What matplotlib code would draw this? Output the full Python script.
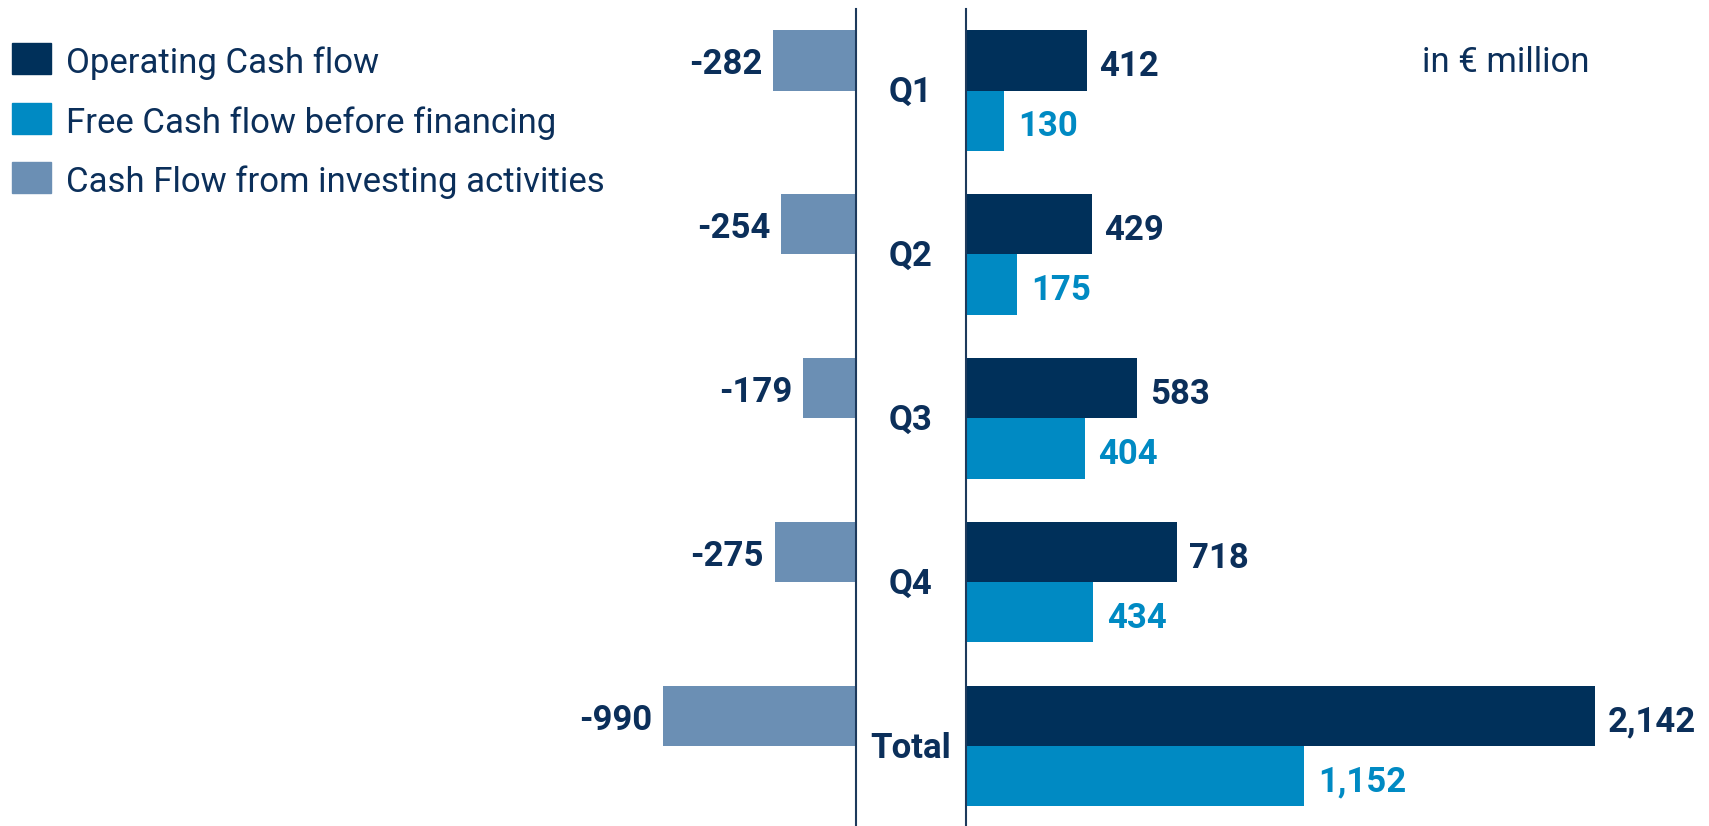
import numpy as np
import matplotlib
matplotlib.use("Agg")
import matplotlib.pyplot as plt

plt.rcParams['font.family'] = ['Roboto', 'DejaVu Sans']

# Cash flow figures, in € million
periods = ['Q1', 'Q2', 'Q3', 'Q4', 'Total']
operating = [412, 429, 583, 718, 2142]
free_cf = [130, 175, 404, 434, 1152]
investing = [-282, -254, -179, -275, -990]
labels_op = ['412', '429', '583', '718', '2,142']
labels_free = ['130', '175', '404', '434', '1,152']
labels_inv = ['-282', '-254', '-179', '-275', '-990']

c_op = '#00305a'
c_free = '#008ac3'
c_inv = '#6b8fb4'
c_text = '#0b2f5a'
c_line = '#1d3a5c'

W, H = 1709, 826
fig = plt.figure(figsize=(W / 100, H / 100), dpi=100)

top = (H - 9) / H
ylim = (4.485, -0.497)
bh = 0.366
y = np.arange(len(periods))
fs = 25

# left panel: investing (negative), cut off at its left edge
axl = fig.add_axes([663 / W, 0, (856 - 663) / W, top])
axl.barh(y - bh / 2, investing, height=bh, color=c_inv)
axl.set_xlim(-657, 0)
axl.set_ylim(*ylim)
for yi, v, t in zip(y, investing, labels_inv):
    xv = max(v, axl.get_xlim()[0])
    axl.annotate(t, (xv, yi - bh / 2), xytext=(-8, -3), textcoords='offset points',
                 ha='right', va='center', fontsize=fs, fontweight='bold',
                 color=c_text, annotation_clip=False)

# right panel: operating and free cash flow
axr = fig.add_axes([966 / W, 0, (W - 966) / W, top])
axr.barh(y - bh / 2, operating, height=bh, color=c_op)
axr.barh(y + bh / 2, free_cf, height=bh, color=c_free)
axr.set_xlim(0, 2530)
axr.set_ylim(*ylim)
for yi, v, t in zip(y, operating, labels_op):
    axr.annotate(t, (v, yi - bh / 2), xytext=(9, -4), textcoords='offset points',
                 ha='left', va='center', fontsize=fs, fontweight='bold', color=c_text)
for yi, v, t in zip(y, free_cf, labels_free):
    axr.annotate(t, (v, yi + bh / 2), xytext=(10, -4), textcoords='offset points',
                 ha='left', va='center', fontsize=fs, fontweight='bold', color=c_free)

for ax in (axl, axr):
    for s in ax.spines.values():
        s.set_visible(False)
    ax.set_xticks([])
    ax.set_yticks([])
    ax.patch.set_visible(False)
axl.spines['right'].set_visible(True)
axr.spines['left'].set_visible(True)
for s in (axl.spines['right'], axr.spines['left']):
    s.set_color(c_line)
    s.set_linewidth(1.5)

# period names between the two lines
xc = ((856 + 966) / 2) / W
for yi, p in zip(y, periods):
    yf = axr.transData.transform((0, yi))[1]
    fig.text(xc, fig.transFigure.inverted().transform((0, yf))[1] - 2 / H, p,
             ha='center', va='center', fontsize=fs, fontweight='bold', color=c_text)

# legend
legend_items = [('Operating Cash flow', c_op),
                ('Free Cash flow before financing', c_free),
                ('Cash Flow from investing activities', c_inv)]
for i, (name, col) in enumerate(legend_items):
    yc = 58.5 + i * 59.5
    fig.patches.append(plt.Rectangle((12 / W, 1 - (yc + 15.5) / H), 39 / W, 31 / H,
                                     transform=fig.transFigure, color=col))
    fig.text(66 / W, 1 - (yc + 5) / H, name, ha='left', va='center',
             fontsize=fs, color=c_text)

fig.text(1422 / W, 1 - 62 / H, 'in € million', ha='left', va='center',
         fontsize=fs, color=c_text)

fig.savefig('out.png', dpi=100)
